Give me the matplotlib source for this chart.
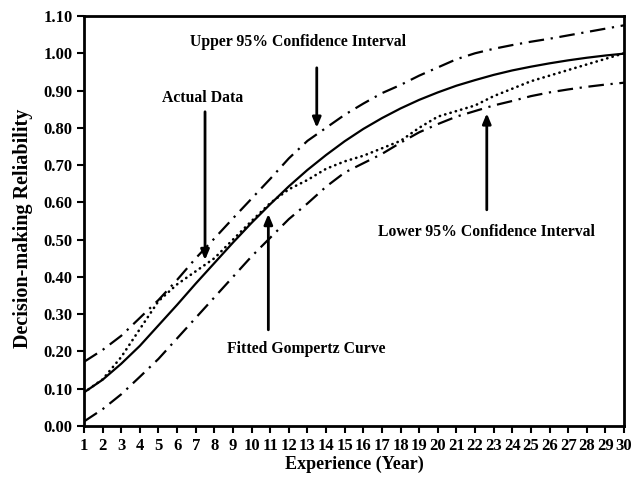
import matplotlib
matplotlib.use('Agg')
import matplotlib.pyplot as plt

plt.rcParams['font.family'] = ['Liberation Serif', 'DejaVu Serif']
plt.rcParams['font.weight'] = 'bold'

# Experience (years) and reliability values
years = list(range(1, 31))
fitted = [0.090, 0.124, 0.167, 0.215, 0.270, 0.325, 0.382, 0.437, 0.492, 0.545,
          0.595, 0.643, 0.687, 0.727, 0.764, 0.797, 0.826, 0.852, 0.875, 0.895,
          0.913, 0.928, 0.942, 0.954, 0.964, 0.973, 0.981, 0.988, 0.994, 0.999]
actual = [0.090, 0.125, 0.185, 0.260, 0.335, 0.380, 0.415, 0.450, 0.500, 0.550,
          0.598, 0.635, 0.660, 0.690, 0.710, 0.725, 0.745, 0.765, 0.800, 0.830,
          0.845, 0.860, 0.885, 0.905, 0.925, 0.940, 0.955, 0.970, 0.985, 1.000]
upper = [0.172, 0.204, 0.242, 0.290, 0.338, 0.392, 0.450, 0.503, 0.557, 0.610,
         0.663, 0.718, 0.765, 0.800, 0.835, 0.865, 0.893, 0.915, 0.940, 0.962,
         0.984, 1.000, 1.012, 1.022, 1.031, 1.039, 1.048, 1.057, 1.066, 1.075]
lower = [0.012, 0.045, 0.085, 0.132, 0.180, 0.235, 0.290, 0.345, 0.400, 0.455,
         0.505, 0.555, 0.597, 0.642, 0.680, 0.705, 0.730, 0.760, 0.788, 0.810,
         0.830, 0.845, 0.860, 0.872, 0.885, 0.895, 0.903, 0.910, 0.916, 0.921]

y_ticks = [0.0, 0.1, 0.2, 0.3, 0.4, 0.5, 0.6, 0.7, 0.8, 0.9, 1.0, 1.1]

fig = plt.figure(figsize=(6.44, 4.79), dpi=100)
ax = fig.add_axes([0.1304, 0.1107, 0.8386, 0.8559])

dashdot = (0, (7, 3, 1, 3))
ax.plot(years, upper, color='black', linewidth=1.6, linestyle=dashdot)
ax.plot(years, lower, color='black', linewidth=1.6, linestyle=dashdot)
ax.plot(years, fitted, color='black', linewidth=1.6, linestyle='-')
ax.plot(years, actual, color='black', linewidth=1.9, linestyle=(0, (0.1, 2.0)),
        dash_capstyle='round')

ax.set_xlim(1, 30)
ax.set_ylim(0, 1.1)
ax.set_xticks(years)
ax.set_yticks(y_ticks)
ax.set_yticklabels([f"{v:.2f}" for v in y_ticks])
ax.tick_params(direction='out', length=5, width=1.5, labelsize=12, pad=3)
ax.tick_params(axis='x', pad=4)
for lab in ax.get_xticklabels() + ax.get_yticklabels():
    lab.set_fontweight('bold')
for s in ax.spines.values():
    s.set_linewidth(2)

ax.set_xlabel("Experience (Year)", fontsize=13, fontweight='bold', labelpad=1)
ax.set_ylabel("Decision-making Reliability", fontsize=14.5, fontweight='bold', labelpad=8)
ax.yaxis.label.set_y(0.483)

arrow = dict(arrowstyle='-|>,head_length=0.6,head_width=0.25', color='black',
             lw=2, shrinkA=0, shrinkB=0)
txt = dict(fontsize=11.3, fontweight='bold', ha='center', va='center')

ax.text(12.52, 1.030, "Upper 95% Confidence Interval", **txt)
ax.annotate("", xy=(13.5, 0.80), xytext=(13.5, 0.961), arrowprops=arrow)

ax.text(7.39, 0.880, "Actual Data", **txt)
ax.annotate("", xy=(7.5, 0.445), xytext=(7.5, 0.843), arrowprops=arrow)

ax.text(12.92, 0.207, "Fitted Gompertz Curve", **txt)
ax.annotate("", xy=(10.9, 0.569), xytext=(10.9, 0.258), arrowprops=arrow)

ax.text(22.62, 0.521, "Lower 95% Confidence Interval", **txt)
ax.annotate("", xy=(22.63, 0.839), xytext=(22.63, 0.58), arrowprops=arrow)

plt.savefig('out.png', dpi=100, facecolor='white')
plt.close(fig)
